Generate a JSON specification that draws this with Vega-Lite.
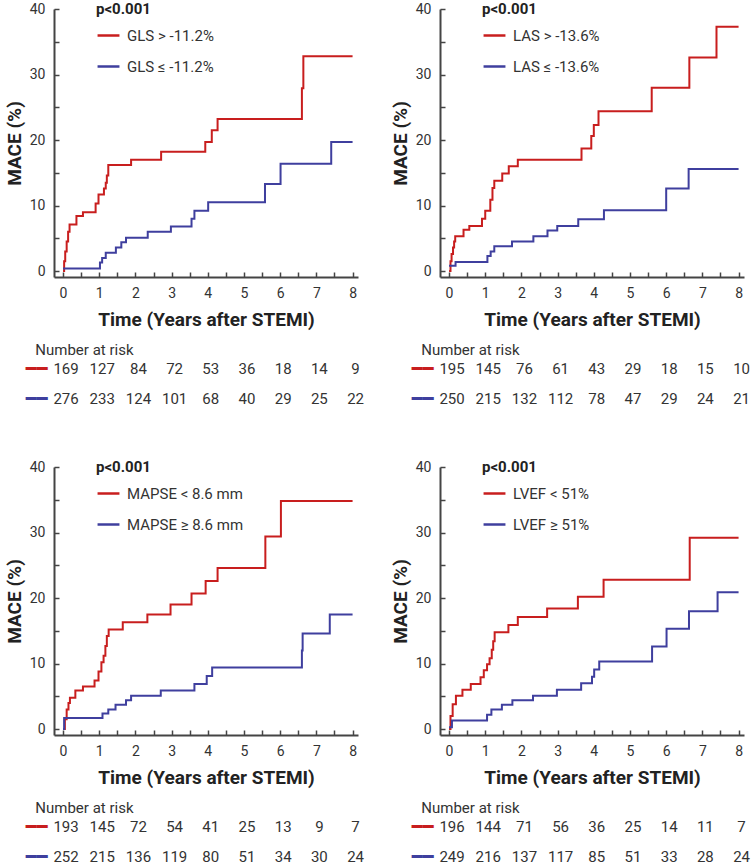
{
  "$schema": "https://vega.github.io/schema/vega-lite/v6.json",
  "padding": {"left": 5, "top": 2, "right": 0, "bottom": 2},
  "background": "white",
  "config": {
    "font": "Roboto",
    "view": {"stroke": null},
    "axis": {"grid": false, "labelFont": "Roboto", "titleFont": "Roboto", "labelFontSize": 14, "labelColor": "#333", "titleFontSize": 19, "titleFontWeight": "bold", "titleColor": "#222", "domainColor": "#444", "domainWidth": 2, "tickColor": "#444", "tickWidth": 1.5, "labelFlush": false, "labelOverlap": false},
    "legend": {"labelFont": "Roboto", "titleFont": "Roboto", "labelFontSize": 15, "labelColor": "#333", "titleFontSize": 15, "titleFontWeight": "bold", "titleColor": "#222", "padding": 0},
    "title": {"font": "Roboto"}
  },
  "datasets": {
    "gls": [
      {"t":0,"v":0,"g":"r"},{"t":0.03,"v":1.5,"g":"r"},{"t":0.06,"v":3,"g":"r"},{"t":0.1,"v":4.5,"g":"r"},{"t":0.14,"v":6,"g":"r"},{"t":0.18,"v":7.1,"g":"r"},{"t":0.37,"v":8.4,"g":"r"},{"t":0.55,"v":9.0,"g":"r"},{"t":0.9,"v":10.3,"g":"r"},{"t":0.98,"v":11.7,"g":"r"},{"t":1.13,"v":12.6,"g":"r"},{"t":1.18,"v":13.5,"g":"r"},{"t":1.21,"v":14.6,"g":"r"},{"t":1.25,"v":16.2,"g":"r"},{"t":1.88,"v":17.0,"g":"r"},{"t":2.71,"v":18.2,"g":"r"},{"t":3.93,"v":19.7,"g":"r"},{"t":4.11,"v":21.5,"g":"r"},{"t":4.27,"v":23.2,"g":"r"},{"t":6.6,"v":27.9,"g":"r"},{"t":6.64,"v":32.8,"g":"r"},{"t":8,"v":32.8,"g":"r"},
      {"t":0,"v":0.4,"g":"b"},{"t":1.02,"v":1.3,"g":"b"},{"t":1.08,"v":2.0,"g":"b"},{"t":1.18,"v":2.8,"g":"b"},{"t":1.46,"v":3.6,"g":"b"},{"t":1.61,"v":4.4,"g":"b"},{"t":1.74,"v":5.1,"g":"b"},{"t":2.34,"v":6.0,"g":"b"},{"t":2.98,"v":6.8,"g":"b"},{"t":3.55,"v":8.0,"g":"b"},{"t":3.63,"v":9.2,"g":"b"},{"t":4.01,"v":10.5,"g":"b"},{"t":5.58,"v":13.3,"g":"b"},{"t":6.01,"v":16.4,"g":"b"},{"t":7.41,"v":19.7,"g":"b"},{"t":8,"v":19.7,"g":"b"}
    ],
    "las": [
      {"t":0,"v":0,"g":"r"},{"t":0.04,"v":1.5,"g":"r"},{"t":0.07,"v":2.6,"g":"r"},{"t":0.11,"v":3.6,"g":"r"},{"t":0.14,"v":4.5,"g":"r"},{"t":0.17,"v":5.3,"g":"r"},{"t":0.4,"v":6.3,"g":"r"},{"t":0.56,"v":6.9,"g":"r"},{"t":0.91,"v":8.0,"g":"r"},{"t":1.0,"v":9.2,"g":"r"},{"t":1.14,"v":10.9,"g":"r"},{"t":1.2,"v":12.7,"g":"r"},{"t":1.25,"v":13.8,"g":"r"},{"t":1.47,"v":14.9,"g":"r"},{"t":1.65,"v":16.0,"g":"r"},{"t":1.9,"v":17.0,"g":"r"},{"t":3.66,"v":18.7,"g":"r"},{"t":3.93,"v":20.6,"g":"r"},{"t":4.0,"v":22.3,"g":"r"},{"t":4.13,"v":24.4,"g":"r"},{"t":5.6,"v":28.0,"g":"r"},{"t":6.64,"v":32.6,"g":"r"},{"t":7.39,"v":37.3,"g":"r"},{"t":8,"v":37.3,"g":"r"},
      {"t":0,"v":0.8,"g":"b"},{"t":0.18,"v":1.4,"g":"b"},{"t":1.06,"v":2.3,"g":"b"},{"t":1.15,"v":3.0,"g":"b"},{"t":1.25,"v":3.8,"g":"b"},{"t":1.74,"v":4.5,"g":"b"},{"t":2.33,"v":5.3,"g":"b"},{"t":2.72,"v":6.2,"g":"b"},{"t":2.99,"v":6.9,"g":"b"},{"t":3.57,"v":7.9,"g":"b"},{"t":4.28,"v":9.3,"g":"b"},{"t":6.0,"v":12.6,"g":"b"},{"t":6.62,"v":15.6,"g":"b"},{"t":8,"v":15.6,"g":"b"}
    ],
    "mapse": [
      {"t":0,"v":0,"g":"r"},{"t":0.05,"v":1.5,"g":"r"},{"t":0.1,"v":3,"g":"r"},{"t":0.15,"v":4.0,"g":"r"},{"t":0.19,"v":4.8,"g":"r"},{"t":0.34,"v":5.9,"g":"r"},{"t":0.55,"v":6.5,"g":"r"},{"t":0.87,"v":7.4,"g":"r"},{"t":0.98,"v":8.8,"g":"r"},{"t":1.06,"v":10.2,"g":"r"},{"t":1.12,"v":11.2,"g":"r"},{"t":1.17,"v":12.7,"g":"r"},{"t":1.21,"v":14.2,"g":"r"},{"t":1.26,"v":15.2,"g":"r"},{"t":1.65,"v":16.3,"g":"r"},{"t":2.33,"v":17.5,"g":"r"},{"t":2.97,"v":19.0,"g":"r"},{"t":3.55,"v":20.7,"g":"r"},{"t":3.94,"v":22.6,"g":"r"},{"t":4.27,"v":24.6,"g":"r"},{"t":5.59,"v":29.4,"g":"r"},{"t":6.02,"v":34.8,"g":"r"},{"t":8,"v":34.8,"g":"r"},
      {"t":0,"v":0,"g":"b"},{"t":0.03,"v":1.7,"g":"b"},{"t":1.09,"v":2.4,"g":"b"},{"t":1.25,"v":3.0,"g":"b"},{"t":1.45,"v":3.7,"g":"b"},{"t":1.74,"v":4.4,"g":"b"},{"t":1.88,"v":5.1,"g":"b"},{"t":2.7,"v":5.9,"g":"b"},{"t":3.63,"v":6.9,"g":"b"},{"t":3.97,"v":8.1,"g":"b"},{"t":4.12,"v":9.4,"g":"b"},{"t":6.6,"v":12.0,"g":"b"},{"t":6.62,"v":14.6,"g":"b"},{"t":7.37,"v":17.5,"g":"b"},{"t":8,"v":17.5,"g":"b"}
    ],
    "lvef": [
      {"t":0,"v":0,"g":"r"},{"t":0.04,"v":2.0,"g":"r"},{"t":0.1,"v":3.8,"g":"r"},{"t":0.19,"v":5.1,"g":"r"},{"t":0.37,"v":6.0,"g":"r"},{"t":0.6,"v":6.9,"g":"r"},{"t":0.87,"v":7.9,"g":"r"},{"t":0.96,"v":9.0,"g":"r"},{"t":1.05,"v":9.9,"g":"r"},{"t":1.12,"v":10.8,"g":"r"},{"t":1.18,"v":12.1,"g":"r"},{"t":1.22,"v":13.4,"g":"r"},{"t":1.26,"v":14.8,"g":"r"},{"t":1.64,"v":15.9,"g":"r"},{"t":1.9,"v":17.1,"g":"r"},{"t":2.71,"v":18.4,"g":"r"},{"t":3.56,"v":20.2,"g":"r"},{"t":4.27,"v":22.8,"g":"r"},{"t":6.65,"v":29.2,"g":"r"},{"t":8,"v":29.2,"g":"r"},
      {"t":0,"v":0.3,"g":"b"},{"t":0.08,"v":1.3,"g":"b"},{"t":1.05,"v":2.2,"g":"b"},{"t":1.17,"v":3.0,"g":"b"},{"t":1.46,"v":3.7,"g":"b"},{"t":1.75,"v":4.4,"g":"b"},{"t":2.32,"v":5.1,"g":"b"},{"t":2.98,"v":6.0,"g":"b"},{"t":3.65,"v":7.0,"g":"b"},{"t":3.95,"v":8.0,"g":"b"},{"t":4.01,"v":9.1,"g":"b"},{"t":4.15,"v":10.3,"g":"b"},{"t":5.61,"v":12.6,"g":"b"},{"t":6.01,"v":15.3,"g":"b"},{"t":6.63,"v":18.0,"g":"b"},{"t":7.42,"v":20.9,"g":"b"},{"t":8,"v":20.9,"g":"b"}
    ],
    "gls_risk": [
      {"t":0,"g":"r","n":169},{"t":1,"g":"r","n":127},{"t":2,"g":"r","n":84},{"t":3,"g":"r","n":72},{"t":4,"g":"r","n":53},{"t":5,"g":"r","n":36},{"t":6,"g":"r","n":18},{"t":7,"g":"r","n":14},{"t":8,"g":"r","n":9},
      {"t":0,"g":"b","n":276},{"t":1,"g":"b","n":233},{"t":2,"g":"b","n":124},{"t":3,"g":"b","n":101},{"t":4,"g":"b","n":68},{"t":5,"g":"b","n":40},{"t":6,"g":"b","n":29},{"t":7,"g":"b","n":25},{"t":8,"g":"b","n":22}
    ],
    "las_risk": [
      {"t":0,"g":"r","n":195},{"t":1,"g":"r","n":145},{"t":2,"g":"r","n":76},{"t":3,"g":"r","n":61},{"t":4,"g":"r","n":43},{"t":5,"g":"r","n":29},{"t":6,"g":"r","n":18},{"t":7,"g":"r","n":15},{"t":8,"g":"r","n":10},
      {"t":0,"g":"b","n":250},{"t":1,"g":"b","n":215},{"t":2,"g":"b","n":132},{"t":3,"g":"b","n":112},{"t":4,"g":"b","n":78},{"t":5,"g":"b","n":47},{"t":6,"g":"b","n":29},{"t":7,"g":"b","n":24},{"t":8,"g":"b","n":21}
    ],
    "mapse_risk": [
      {"t":0,"g":"r","n":193},{"t":1,"g":"r","n":145},{"t":2,"g":"r","n":72},{"t":3,"g":"r","n":54},{"t":4,"g":"r","n":41},{"t":5,"g":"r","n":25},{"t":6,"g":"r","n":13},{"t":7,"g":"r","n":9},{"t":8,"g":"r","n":7},
      {"t":0,"g":"b","n":252},{"t":1,"g":"b","n":215},{"t":2,"g":"b","n":136},{"t":3,"g":"b","n":119},{"t":4,"g":"b","n":80},{"t":5,"g":"b","n":51},{"t":6,"g":"b","n":34},{"t":7,"g":"b","n":30},{"t":8,"g":"b","n":24}
    ],
    "lvef_risk": [
      {"t":0,"g":"r","n":196},{"t":1,"g":"r","n":144},{"t":2,"g":"r","n":71},{"t":3,"g":"r","n":56},{"t":4,"g":"r","n":36},{"t":5,"g":"r","n":25},{"t":6,"g":"r","n":14},{"t":7,"g":"r","n":11},{"t":8,"g":"r","n":7},
      {"t":0,"g":"b","n":249},{"t":1,"g":"b","n":216},{"t":2,"g":"b","n":137},{"t":3,"g":"b","n":117},{"t":4,"g":"b","n":85},{"t":5,"g":"b","n":51},{"t":6,"g":"b","n":33},{"t":7,"g":"b","n":28},{"t":8,"g":"b","n":24}
    ]
  },
  "resolve": {"scale": {"x": "independent", "y": "independent", "color": "independent"}, "legend": {"color": "independent"}, "axis": {"x": "independent", "y": "independent"}},
  "spacing": 52,
  "vconcat": [
    {
      "hconcat": [
        {
          "spacing": 14,
          "resolve": {"scale": {"x": "independent", "y": "independent", "color": "independent"}},
          "vconcat": [
            {
              "width": 304, "height": 268,
              "data": {"name": "gls"},
              "mark": {"type": "line", "interpolate": "step-after", "strokeWidth": 2},
              "encoding": {
                "x": {"field": "t", "type": "quantitative", "scale": {"domain": [-0.25, 8.15], "nice": false, "zero": false}, "axis": {"title": "Time (Years after STEMI)", "values": [0,0.5,1,1.5,2,2.5,3,3.5,4,4.5,5,5.5,6,6.5,7,7.5,8], "labelExpr": "datum.value % 1 == 0 ? format(datum.value, 'd') : ''", "tickSize": -5, "labelPadding": 14, "titlePadding": 10}},
                "y": {"field": "v", "type": "quantitative", "scale": {"domain": [-0.9, 40], "nice": false, "zero": false}, "axis": {"title": "MACE (%)", "values": [0,5,10,15,20,25,30,35,40], "labelExpr": "datum.value % 10 == 0 ? format(datum.value, 'd') : ''", "tickSize": -5, "labelPadding": 14, "titlePadding": 5}},
                "color": {"field": "g", "type": "nominal", "scale": {"domain": ["r", "b"], "range": ["#c81e1e", "#3f3f9e"]}, "legend": {"title": "p<0.001", "orient": "none", "legendX": 42, "legendY": -7, "symbolType": "stroke", "symbolSize": 480, "symbolStrokeWidth": 2.5, "titlePadding": 6, "rowPadding": 10, "labelOffset": 6, "labelExpr": "datum.value == 'r' ? 'GLS > -11.2%' : 'GLS ≤ -11.2%'"}}
              }
            },
            {
              "width": 304, "height": 30,
              "title": {"text": "Number at risk", "anchor": "start", "fontSize": 15, "fontWeight": "normal", "color": "#333", "dx": 10, "offset": 2},
              "data": {"name": "gls_risk"},
              "mark": {"type": "text", "fontSize": 15, "color": "#333", "font": "Roboto", "dx": 3},
              "encoding": {
                "x": {"field": "t", "type": "quantitative", "scale": {"domain": [-0.25, 8.15], "nice": false, "zero": false}, "axis": null},
                "y": {"field": "g", "type": "nominal", "scale": {"type": "point", "domain": ["r", "b"], "padding": 0}, "axis": {"title": null, "domain": false, "ticks": false, "labelExpr": "'━━'", "labelFont": "DejaVu Sans", "labelFontSize": 18, "labelPadding": 7, "labelColor": {"condition": {"test": "datum.value == 'r'", "value": "#c81e1e"}, "value": "#3f3f9e"}}},
                "text": {"field": "n", "type": "quantitative"}
              }
            }
          ]
        },
        {
          "spacing": 14,
          "resolve": {"scale": {"x": "independent", "y": "independent", "color": "independent"}},
          "vconcat": [
            {
              "width": 304, "height": 268,
              "data": {"name": "las"},
              "mark": {"type": "line", "interpolate": "step-after", "strokeWidth": 2},
              "encoding": {
                "x": {"field": "t", "type": "quantitative", "scale": {"domain": [-0.25, 8.15], "nice": false, "zero": false}, "axis": {"title": "Time (Years after STEMI)", "values": [0,0.5,1,1.5,2,2.5,3,3.5,4,4.5,5,5.5,6,6.5,7,7.5,8], "labelExpr": "datum.value % 1 == 0 ? format(datum.value, 'd') : ''", "tickSize": -5, "labelPadding": 14, "titlePadding": 10}},
                "y": {"field": "v", "type": "quantitative", "scale": {"domain": [-0.9, 40], "nice": false, "zero": false}, "axis": {"title": "MACE (%)", "values": [0,5,10,15,20,25,30,35,40], "labelExpr": "datum.value % 10 == 0 ? format(datum.value, 'd') : ''", "tickSize": -5, "labelPadding": 14, "titlePadding": 5}},
                "color": {"field": "g", "type": "nominal", "scale": {"domain": ["r", "b"], "range": ["#c81e1e", "#3f3f9e"]}, "legend": {"title": "p<0.001", "orient": "none", "legendX": 42, "legendY": -7, "symbolType": "stroke", "symbolSize": 480, "symbolStrokeWidth": 2.5, "titlePadding": 6, "rowPadding": 10, "labelOffset": 6, "labelExpr": "datum.value == 'r' ? 'LAS > -13.6%' : 'LAS ≤ -13.6%'"}}
              }
            },
            {
              "width": 304, "height": 30,
              "title": {"text": "Number at risk", "anchor": "start", "fontSize": 15, "fontWeight": "normal", "color": "#333", "dx": 10, "offset": 2},
              "data": {"name": "las_risk"},
              "mark": {"type": "text", "fontSize": 15, "color": "#333", "font": "Roboto", "dx": 3},
              "encoding": {
                "x": {"field": "t", "type": "quantitative", "scale": {"domain": [-0.25, 8.15], "nice": false, "zero": false}, "axis": null},
                "y": {"field": "g", "type": "nominal", "scale": {"type": "point", "domain": ["r", "b"], "padding": 0}, "axis": {"title": null, "domain": false, "ticks": false, "labelExpr": "'━━'", "labelFont": "DejaVu Sans", "labelFontSize": 18, "labelPadding": 7, "labelColor": {"condition": {"test": "datum.value == 'r'", "value": "#c81e1e"}, "value": "#3f3f9e"}}},
                "text": {"field": "n", "type": "quantitative"}
              }
            }
          ]
        }
      ],
      "spacing": 26,
      "resolve": {"scale": {"x": "independent", "y": "independent", "color": "independent"}, "legend": {"color": "independent"}}
    },
    {
      "hconcat": [
        {
          "spacing": 14,
          "resolve": {"scale": {"x": "independent", "y": "independent", "color": "independent"}},
          "vconcat": [
            {
              "width": 304, "height": 268,
              "data": {"name": "mapse"},
              "mark": {"type": "line", "interpolate": "step-after", "strokeWidth": 2},
              "encoding": {
                "x": {"field": "t", "type": "quantitative", "scale": {"domain": [-0.25, 8.15], "nice": false, "zero": false}, "axis": {"title": "Time (Years after STEMI)", "values": [0,0.5,1,1.5,2,2.5,3,3.5,4,4.5,5,5.5,6,6.5,7,7.5,8], "labelExpr": "datum.value % 1 == 0 ? format(datum.value, 'd') : ''", "tickSize": -5, "labelPadding": 14, "titlePadding": 10}},
                "y": {"field": "v", "type": "quantitative", "scale": {"domain": [-0.9, 40], "nice": false, "zero": false}, "axis": {"title": "MACE (%)", "values": [0,5,10,15,20,25,30,35,40], "labelExpr": "datum.value % 10 == 0 ? format(datum.value, 'd') : ''", "tickSize": -5, "labelPadding": 14, "titlePadding": 5}},
                "color": {"field": "g", "type": "nominal", "scale": {"domain": ["r", "b"], "range": ["#c81e1e", "#3f3f9e"]}, "legend": {"title": "p<0.001", "orient": "none", "legendX": 42, "legendY": -7, "symbolType": "stroke", "symbolSize": 480, "symbolStrokeWidth": 2.5, "titlePadding": 6, "rowPadding": 10, "labelOffset": 6, "labelExpr": "datum.value == 'r' ? 'MAPSE < 8.6 mm' : 'MAPSE ≥ 8.6 mm'"}}
              }
            },
            {
              "width": 304, "height": 30,
              "title": {"text": "Number at risk", "anchor": "start", "fontSize": 15, "fontWeight": "normal", "color": "#333", "dx": 10, "offset": 2},
              "data": {"name": "mapse_risk"},
              "mark": {"type": "text", "fontSize": 15, "color": "#333", "font": "Roboto", "dx": 3},
              "encoding": {
                "x": {"field": "t", "type": "quantitative", "scale": {"domain": [-0.25, 8.15], "nice": false, "zero": false}, "axis": null},
                "y": {"field": "g", "type": "nominal", "scale": {"type": "point", "domain": ["r", "b"], "padding": 0}, "axis": {"title": null, "domain": false, "ticks": false, "labelExpr": "'━━'", "labelFont": "DejaVu Sans", "labelFontSize": 18, "labelPadding": 7, "labelColor": {"condition": {"test": "datum.value == 'r'", "value": "#c81e1e"}, "value": "#3f3f9e"}}},
                "text": {"field": "n", "type": "quantitative"}
              }
            }
          ]
        },
        {
          "spacing": 14,
          "resolve": {"scale": {"x": "independent", "y": "independent", "color": "independent"}},
          "vconcat": [
            {
              "width": 304, "height": 268,
              "data": {"name": "lvef"},
              "mark": {"type": "line", "interpolate": "step-after", "strokeWidth": 2},
              "encoding": {
                "x": {"field": "t", "type": "quantitative", "scale": {"domain": [-0.25, 8.15], "nice": false, "zero": false}, "axis": {"title": "Time (Years after STEMI)", "values": [0,0.5,1,1.5,2,2.5,3,3.5,4,4.5,5,5.5,6,6.5,7,7.5,8], "labelExpr": "datum.value % 1 == 0 ? format(datum.value, 'd') : ''", "tickSize": -5, "labelPadding": 14, "titlePadding": 10}},
                "y": {"field": "v", "type": "quantitative", "scale": {"domain": [-0.9, 40], "nice": false, "zero": false}, "axis": {"title": "MACE (%)", "values": [0,5,10,15,20,25,30,35,40], "labelExpr": "datum.value % 10 == 0 ? format(datum.value, 'd') : ''", "tickSize": -5, "labelPadding": 14, "titlePadding": 5}},
                "color": {"field": "g", "type": "nominal", "scale": {"domain": ["r", "b"], "range": ["#c81e1e", "#3f3f9e"]}, "legend": {"title": "p<0.001", "orient": "none", "legendX": 42, "legendY": -7, "symbolType": "stroke", "symbolSize": 480, "symbolStrokeWidth": 2.5, "titlePadding": 6, "rowPadding": 10, "labelOffset": 6, "labelExpr": "datum.value == 'r' ? 'LVEF < 51%' : 'LVEF ≥ 51%'"}}
              }
            },
            {
              "width": 304, "height": 30,
              "title": {"text": "Number at risk", "anchor": "start", "fontSize": 15, "fontWeight": "normal", "color": "#333", "dx": 10, "offset": 2},
              "data": {"name": "lvef_risk"},
              "mark": {"type": "text", "fontSize": 15, "color": "#333", "font": "Roboto", "dx": 3},
              "encoding": {
                "x": {"field": "t", "type": "quantitative", "scale": {"domain": [-0.25, 8.15], "nice": false, "zero": false}, "axis": null},
                "y": {"field": "g", "type": "nominal", "scale": {"type": "point", "domain": ["r", "b"], "padding": 0}, "axis": {"title": null, "domain": false, "ticks": false, "labelExpr": "'━━'", "labelFont": "DejaVu Sans", "labelFontSize": 18, "labelPadding": 7, "labelColor": {"condition": {"test": "datum.value == 'r'", "value": "#c81e1e"}, "value": "#3f3f9e"}}},
                "text": {"field": "n", "type": "quantitative"}
              }
            }
          ]
        }
      ],
      "spacing": 26,
      "resolve": {"scale": {"x": "independent", "y": "independent", "color": "independent"}, "legend": {"color": "independent"}}
    }
  ]
}
